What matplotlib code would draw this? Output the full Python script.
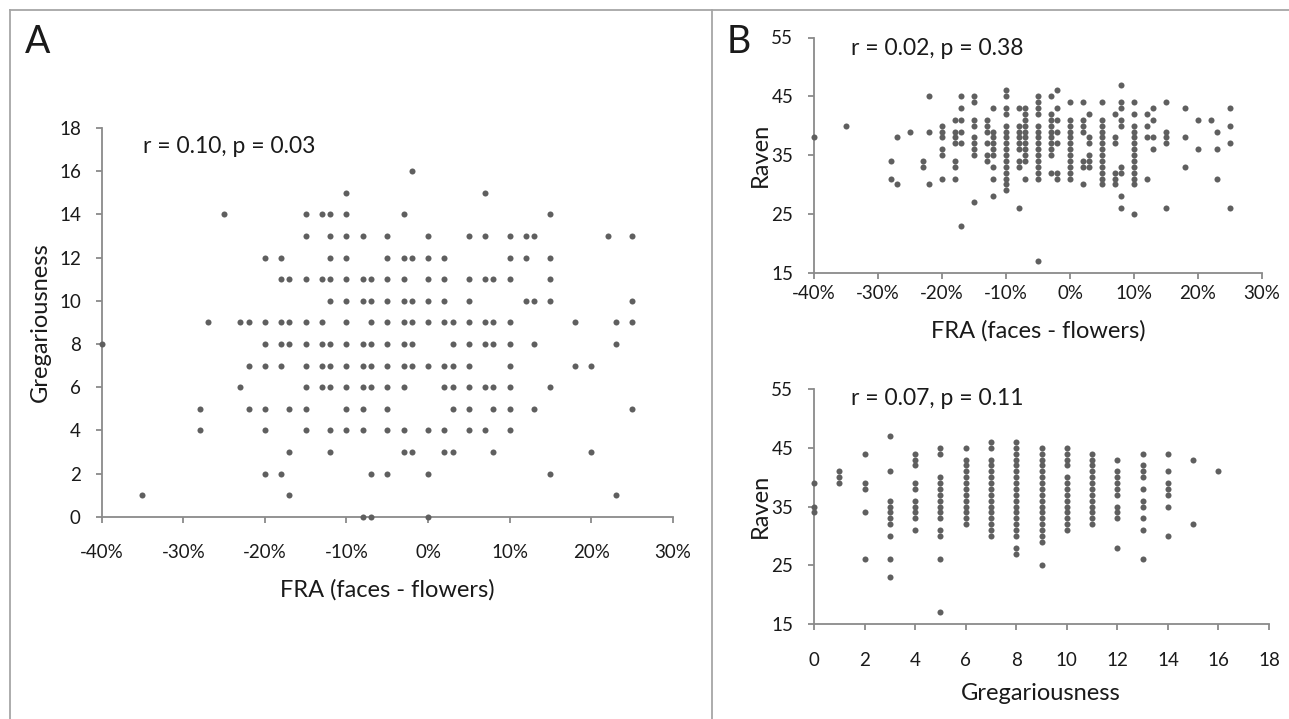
import matplotlib
matplotlib.use('Agg')
import matplotlib.pyplot as plt
from matplotlib.lines import Line2D
from matplotlib.ticker import FuncFormatter

plt.rcParams['font.family'] = ['Lato', 'DejaVu Sans']

# ---- data ----
# panel A: gregariousness levels and the FRA (%) values found on each level
a_greg_levels = [16, 15, 14, 13, 12, 11, 10, 9, 8, 7, 6, 5, 4, 3, 2, 1, 0]
a_fra_by_level = [
    [-2],
    [-10, 7],
    [-25, -15, -13, -12, -10, -3, 15],
    [-15, -12, -10, -8, -5, 0, 5, 7, 10, 12, 13, 22, 25],
    [-20, -18, -12, -10, -5, -3, -2, 0, 2, 10, 12, 15],
    [-18, -17, -15, -13, -12, -10, -8, -7, -5, -3, 0, 2, 5, 7, 8, 10, 15],
    [-12, -10, -8, -7, -5, -3, -2, 0, 2, 5, 12, 13, 15, 25],
    [-27, -23, -22, -20, -18, -17, -15, -13, -10, -7, -5, -3, -2, 0, 2, 3, 5, 7, 8, 10, 18, 23, 25],
    [-40, -20, -18, -17, -15, -13, -12, -10, -8, -7, -5, -3, -2, 3, 5, 7, 8, 10, 13, 23],
    [-22, -20, -18, -15, -13, -12, -10, -8, -7, -5, -3, -2, 0, 2, 3, 5, 10, 18, 20],
    [-23, -15, -13, -12, -10, -8, -7, -5, -3, 2, 3, 5, 7, 8, 10, 15],
    [-28, -22, -20, -17, -15, -10, -8, -5, 3, 5, 8, 10, 13, 25],
    [-28, -20, -15, -12, -10, -8, -5, -3, 0, 2, 5, 7, 10],
    [-17, -12, -3, -2, 2, 3, 8, 20],
    [-20, -18, -7, -5, 0, 15],
    [-35, -17, 23],
    [-8, -7, 0],
]

# panel B top: FRA (%) columns and Raven scores in each column
b1_fra_cols = [-40, -35, -28, -27, -25, -23, -22, -20, -18, -17, -15, -13, -12, -10,
               -8, -7, -5, -3, -2, 0, 2, 3, 5, 7, 8, 10, 12, 13, 15, 18, 20, 22, 23, 25]
b1_raven_by_col = [
    [38],
    [40],
    [34, 31],
    [38, 30],
    [39],
    [34, 33],
    [45, 39, 30],
    [40, 39, 38, 36, 35, 31],
    [41, 39, 38, 37, 34, 33, 31],
    [45, 43, 41, 39, 37, 23],
    [45, 44, 41, 40, 38, 37, 36, 35, 27],
    [41, 40, 39, 37, 35, 34],
    [43, 39, 38, 37, 36, 35, 33, 31, 28],
    [46, 45, 43, 42, 40, 39, 38, 37, 36, 35, 34, 33, 32, 31, 30, 29],
    [43, 40, 39, 38, 37, 36, 34, 33, 26],
    [43, 42, 41, 40, 39, 38, 37, 36, 35, 34, 31],
    [45, 44, 43, 42, 40, 39, 38, 37, 36, 35, 34, 33, 32, 31, 17],
    [45, 42, 41, 40, 39, 38, 37, 36, 35, 32],
    [46, 43, 41, 39, 37, 32, 31],
    [44, 41, 40, 39, 38, 37, 36, 35, 34, 33, 32, 31],
    [44, 41, 40, 39, 34, 33, 30],
    [42, 38, 37, 35, 34, 33],
    [44, 41, 40, 39, 38, 37, 36, 35, 34, 33, 32, 31, 30],
    [42, 38, 37, 32, 31, 30],
    [47, 44, 43, 41, 40, 33, 32, 28, 26],
    [44, 42, 40, 39, 38, 37, 36, 35, 34, 33, 32, 31, 30, 25],
    [42, 40, 38, 31],
    [43, 41, 38, 36],
    [44, 39, 38, 37, 26],
    [43, 38, 33],
    [41, 36],
    [41],
    [39, 36, 31],
    [43, 40, 37, 26],
]

# panel B bottom: gregariousness columns and Raven scores in each column
b2_greg_cols = [0, 1, 2, 3, 4, 5, 6, 7, 8, 9, 10, 11, 12, 13, 14, 15, 16]
b2_raven_by_col = [
    [39, 35, 34],
    [41, 40, 39],
    [44, 39, 38, 34, 26],
    [47, 41, 36, 35, 34, 33, 32, 30, 26, 23],
    [44, 43, 42, 39, 38, 36, 35, 34, 33, 31],
    [45, 44, 40, 39, 38, 37, 36, 35, 34, 33, 31, 30, 26, 17],
    [45, 43, 42, 41, 40, 39, 38, 37, 36, 35, 34, 33, 32],
    [46, 45, 43, 42, 41, 40, 39, 38, 37, 36, 35, 34, 33, 32, 31, 30],
    [46, 45, 44, 43, 42, 41, 40, 39, 38, 37, 36, 35, 34, 33, 32, 31, 30, 28, 27],
    [45, 44, 43, 42, 41, 40, 39, 38, 37, 36, 35, 34, 33, 32, 31, 30, 29, 25],
    [45, 44, 43, 42, 40, 39, 38, 37, 36, 35, 34, 33, 32, 31],
    [44, 43, 42, 41, 40, 39, 38, 37, 36, 35, 34, 33, 32],
    [43, 41, 40, 39, 38, 37, 35, 34, 33, 28],
    [44, 42, 41, 40, 38, 36, 35, 33, 31, 26],
    [44, 41, 39, 38, 37, 35, 30],
    [43, 32],
    [41],
]

fra_ticks = [-40, -30, -20, -10, 0, 10, 20, 30]
greg_ticks = [0, 2, 4, 6, 8, 10, 12, 14, 16, 18]
raven_ticks = [15, 25, 35, 45, 55]

stat_a = 'r = 0.10, p = 0.03'
stat_b1 = 'r = 0.02, p = 0.38'
stat_b2 = 'r = 0.07, p = 0.11'

# ---- figure ----
W, H = 1289, 719
fig = plt.figure(figsize=(W / 100, H / 100), dpi=100)
fig.patch.set_facecolor('white')

DOT = '#5f5f5f'
AXC = '#8a8a8a'
TXT = '#1a1a1a'


def px(x, y):
    # pixel position (from top-left) -> figure fraction
    return x / W, 1 - y / H


def make_ax(left, right, top, bottom):
    l, b = px(left, bottom)
    r, t = px(right, top)
    ax = fig.add_axes([l, b, r - l, t - b])
    for s in ['top', 'right']:
        ax.spines[s].set_visible(False)
    for s in ['left', 'bottom']:
        ax.spines[s].set_color(AXC)
        ax.spines[s].set_linewidth(1.3)
    ax.tick_params(direction='out', length=4, width=1.3, color=AXC,
                   labelsize=13.5, labelcolor=TXT)
    ax.patch.set_alpha(0)
    return ax


def flat(cols, by_col):
    xs, ys = [], []
    for c, vals in zip(cols, by_col):
        for v in vals:
            xs.append(c)
            ys.append(v)
    return xs, ys


pct = FuncFormatter(lambda v, p: '{:.0f}%'.format(v))

# panel A
axA = make_ax(101.7, 672.8, 128, 516.7)
ay, ax_ = flat(a_greg_levels, a_fra_by_level)
axA.scatter(ax_, ay, s=19, c=DOT, linewidths=0, clip_on=False, zorder=3)
axA.set_xlim(-40, 30)
axA.set_ylim(0, 18)
axA.set_xticks(fra_ticks)
axA.set_yticks(list(range(0, 19, 2)))
axA.xaxis.set_major_formatter(pct)
axA.tick_params(axis='x', pad=16)
axA.tick_params(axis='y', pad=11)

# panel B top
axB1 = make_ax(814, 1262, 37.5, 272.7)
bx, by = flat(b1_fra_cols, b1_raven_by_col)
axB1.scatter(bx, by, s=19, c=DOT, linewidths=0, clip_on=False, zorder=3)
axB1.set_xlim(-40, 30)
axB1.set_ylim(15, 55)
axB1.set_xticks(fra_ticks)
axB1.set_yticks(raven_ticks)
axB1.xaxis.set_major_formatter(pct)
axB1.tick_params(axis='x', pad=5)
axB1.tick_params(axis='y', pad=11)

# panel B bottom
axB2 = make_ax(814, 1269, 389, 624)
cx, cy = flat(b2_greg_cols, b2_raven_by_col)
axB2.scatter(cx, cy, s=19, c=DOT, linewidths=0, clip_on=False, zorder=3)
axB2.set_xlim(0, 18)
axB2.set_ylim(15, 55)
axB2.set_xticks(greg_ticks)
axB2.set_yticks(raven_ticks)
axB2.tick_params(axis='x', pad=16)
axB2.tick_params(axis='y', pad=11)

# texts
fig.text(*px(25, 53), 'A', fontsize=27, color=TXT, va='baseline')
fig.text(*px(727, 53), 'B', fontsize=27, color=TXT, va='baseline')
fig.text(*px(143, 153), stat_a, fontsize=16.5, color=TXT, va='baseline')
fig.text(*px(851, 55), stat_b1, fontsize=16.5, color=TXT, va='baseline')
fig.text(*px(851, 405), stat_b2, fontsize=16.5, color=TXT, va='baseline')

fig.text(*px(40, 322), 'Gregariousness', fontsize=17, color=TXT,
         rotation=90, ha='center', va='center')
fig.text(*px(387, 590), 'FRA (faces - flowers)', fontsize=17, color=TXT,
         ha='center', va='center')
fig.text(*px(760, 155), 'Raven', fontsize=17, color=TXT,
         rotation=90, ha='center', va='center')
fig.text(*px(1038, 331), 'FRA (faces - flowers)', fontsize=17, color=TXT,
         ha='center', va='center')
fig.text(*px(760, 506), 'Raven', fontsize=17, color=TXT,
         rotation=90, ha='center', va='center')
fig.text(*px(1041, 693), 'Gregariousness', fontsize=17, color=TXT,
         ha='center', va='center')

# frame lines
FR = '#a6a6a6'
for xs, ys in [([9.5, W], [9.5, 9.5]), ([9.5, 9.5], [9.5, H]), ([711.5, 711.5], [9.5, H])]:
    fig.add_artist(Line2D([x / W for x in xs], [1 - y / H for y in ys],
                          color=FR, lw=1.3, transform=fig.transFigure))

fig.savefig('out.png', dpi=100)
